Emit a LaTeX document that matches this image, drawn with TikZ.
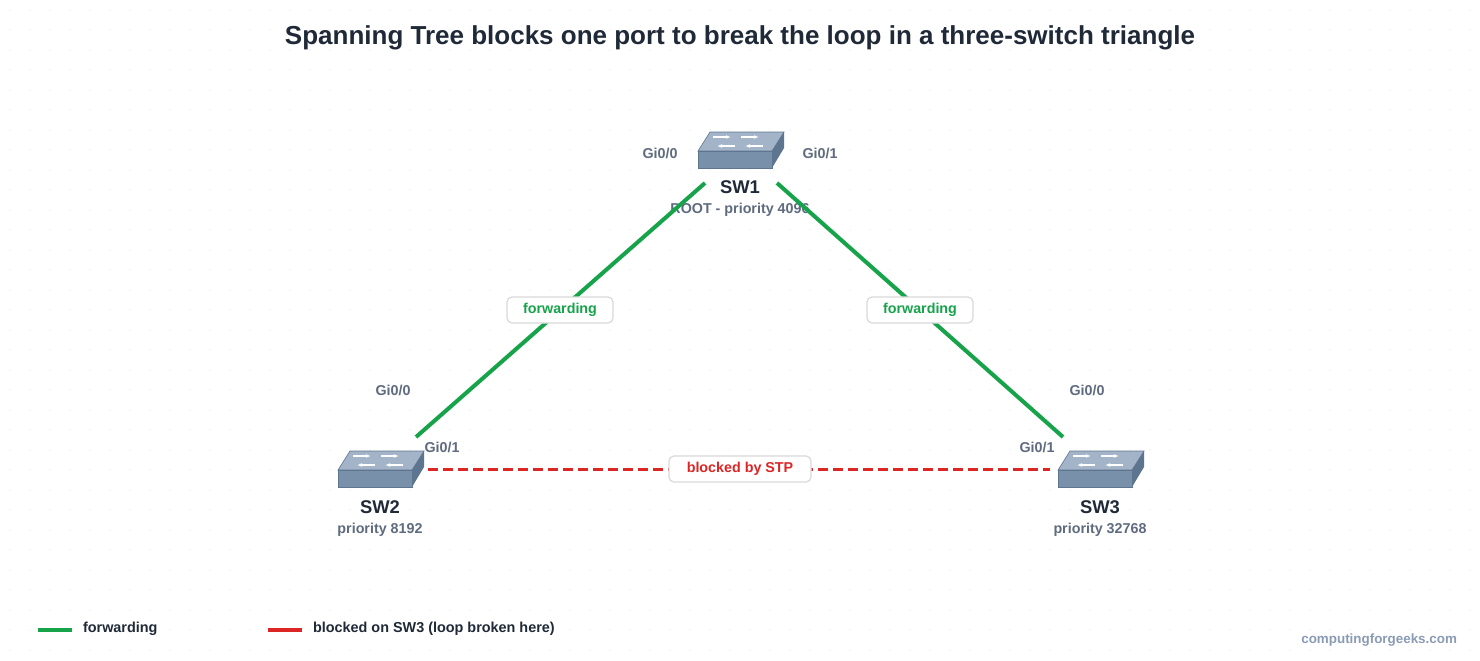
\documentclass[tikz,border=0pt]{standalone}
\usepackage{fontspec}
\setmainfont{Liberation Sans}
\usetikzlibrary{arrows.meta}
\definecolor{dark}{HTML}{1F2937}
\definecolor{port}{HTML}{5F6B7F}
\definecolor{fwd}{HTML}{16A34A}
\definecolor{blk}{HTML}{DC2626}
\definecolor{swfront}{HTML}{7890AA}
\definecolor{swtop}{HTML}{A3B4C8}
\definecolor{swside}{HTML}{5E7590}
\definecolor{wm}{HTML}{8A9BB5}
\tikzset{
 lbl/.style={font=\bfseries\fontsize{7.15}{8}\selectfont,text=port},
 swname/.style={font=\bfseries\fontsize{9.2}{10}\selectfont,text=dark},
 tag/.style={draw=black!15,fill=white,rounded corners=2.5pt,font=\bfseries\fontsize{7.15}{8}\selectfont,minimum width=53pt,minimum height=13pt,inner sep=2pt,line width=0.6pt},
}
\newcommand{\swicon}[2]{%
 \begin{scope}[shift={(#1,#2)}]
 \fill[swtop,draw=swside,line width=0.3pt] (-42,-1)--(-30,-20)--(44,-20)--(32,-1)--cycle;
 \fill[swfront,draw=swside,line width=0.3pt] (-42,-1) rectangle (32,16);
 \fill[swside] (32,-1)--(44,-20)--(44,-4)--(32,16)--cycle;
 \foreach \dx/\dy/\s in {-18/-15/1,10/-15/1,-14/-6/-1,14/-6/-1}{
  \draw[white,line width=0.8pt,-{Latex[length=2.5pt]}] (\dx-\s*9,\dy)--(\dx+\s*9,\dy);}
 \end{scope}}
\begin{document}
\begin{tikzpicture}[x=0.5pt,y=-0.5pt]
\fill[white] (0,0) rectangle (1480,660);
\useasboundingbox (0,0) rectangle (1480,660);
\foreach \i in {0,...,73}{\foreach \j in {0,...,32}{\fill[black!6] (\i*20+10,\j*20+10) circle (0.8);}}
\node[font=\bfseries\fontsize{13}{15}\selectfont,text=dark] (title) at (740,38) {Spanning Tree blocks one port to break the loop in a three-switch triangle};
\swicon{740}{152}
\swicon{380}{471}
\swicon{1100}{471}
\node[swname] (sw1) at (740,187) {SW1};
\node[lbl] (sw1p) at (740,210) {ROOT - priority 4096};
\node[swname] (sw2) at (380,507) {SW2};
\node[lbl] (sw2p) at (380,530) {priority 8192};
\node[swname] (sw3) at (1100,507) {SW3};
\node[lbl] (sw3p) at (1100,530) {priority 32768};
\node[lbl] at (660,153) {Gi0/0};
\node[lbl] at (820,153) {Gi0/1};
\node[lbl] at (393,390) {Gi0/0};
\node[lbl] at (442,447) {Gi0/1};
\node[lbl] at (1087,390) {Gi0/0};
\node[lbl] at (1037,447) {Gi0/1};
\coordinate (a1) at (705,183); \coordinate (a2) at (416,437);
\coordinate (b1) at (777,183); \coordinate (b2) at (1063,437);
\coordinate (c1) at (428,469); \coordinate (c2) at (1050,469);
\draw[fwd,line width=2pt] (a1)--(a2);
\draw[fwd,line width=2pt] (b1)--(b2);
\draw[blk,line width=1.5pt,dash pattern=on 5pt off 2.5pt] (c1)--(c2);
\node[tag,text=fwd] (f1) at (560,310) {forwarding};
\node[tag,text=fwd] (f2) at (920,310) {forwarding};
\node[tag,text=blk,minimum width=71pt] (bl) at (740,469) {blocked by STP};
\coordinate (g1) at (38,630); \coordinate (g2) at (72,630);
\coordinate (r1) at (268,630); \coordinate (r2) at (302,630);
\draw[fwd,line width=2pt] (g1)--(g2);
\draw[blk,line width=2pt] (r1)--(r2);
\node[anchor=west,font=\bfseries\fontsize{7.2}{8}\selectfont,text=dark] at (76,629) {forwarding};
\node[anchor=west,font=\bfseries\fontsize{7.2}{8}\selectfont,text=dark] at (306,629) {blocked on SW3 (loop broken here)};
\node[anchor=east,font=\bfseries\fontsize{6.7}{8}\selectfont,text=wm] at (1464,640) {computingforgeeks.com};
\end{tikzpicture}
\end{document}
